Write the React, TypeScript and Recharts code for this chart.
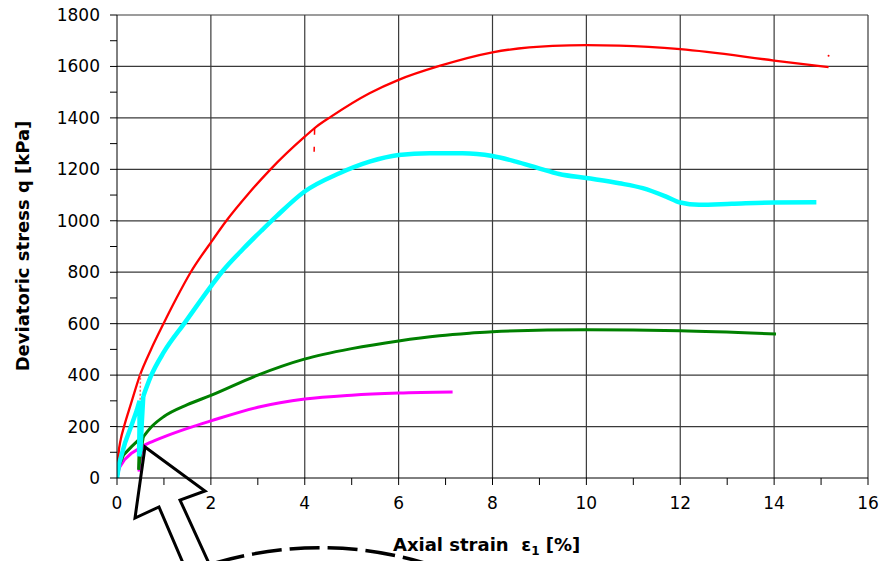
import React from 'react'
import { LineChart, Line, XAxis, YAxis, CartesianGrid } from 'recharts'

// strain ticks [%] and stress ticks [kPa]
const strainTicks = [0, 1, 2, 3, 4, 5, 6, 7, 8, 9, 10, 11, 12, 13, 14, 15, 16]
const stressTicks = [0, 100, 200, 300, 400, 500, 600, 700, 800, 900, 1000, 1100, 1200, 1300, 1400, 1500, 1600, 1700, 1800]
const gridStrain = [2, 4, 6, 8, 10, 12, 14, 16]
const gridStress = [200, 400, 600, 800, 1000, 1200, 1400, 1600, 1800]

// red test
const redStrain = [0, 0.03, 0.08, 0.15, 0.3, 0.49, 0.72, 0.99, 1.26, 1.57, 2.04, 2.33, 2.8, 3.27, 4.0, 4.25, 4.56, 5.38, 6.0, 6.87, 8.0, 9.28, 10.0, 10.7, 12.0, 14.0, 15.16]
const redStress = [0, 90, 150, 200, 290, 400, 498, 600, 697, 800, 926, 1000, 1105, 1200, 1327, 1366, 1405, 1496, 1548, 1602, 1655, 1680, 1683, 1681, 1667, 1623, 1597]
const redUnloadStrain = [0.5, 0.49]
const redUnloadStress = [405, 245]
const redMidStrain = [4.21, 4.2]
const redMidStress = [1358, 1268]
const redEndStrain = [15.16]
const redEndStress = [1642]

// cyan test
const cyanLoopStrain = [0, 0.05, 0.17, 0.3, 0.42, 0.48, 0.48, 0.47, 0.5, 0.53, 0.56]
const cyanLoopStress = [0, 60, 136, 200, 262, 300, 200, 84, 110, 220, 318]
const cyanStrain = [0.56, 0.72, 1.0, 1.45, 2.0, 2.23, 2.7, 3.08, 3.4, 3.99, 4.74, 5.38, 6.0, 6.66, 7.36, 8.0, 8.5, 8.99, 9.42, 10.0, 10.7, 11.2, 11.7, 12.0, 12.4, 13.1, 14.0, 14.9]
const cyanStress = [318, 395, 490, 605, 745, 800, 893, 962, 1018, 1113, 1185, 1230, 1256, 1263, 1263, 1252, 1230, 1204, 1182, 1166, 1146, 1127, 1094, 1071, 1062, 1066, 1071, 1072]

// green test
const greenLoopStrain = [0, 0.05, 0.14, 0.31, 0.5, 0.47, 0.46, 0.5, 0.56]
const greenLoopStress = [0, 50, 90, 122, 155, 100, 32, 90, 160]
const greenStrain = [0.56, 0.74, 1.0, 1.5, 2.0, 3.0, 3.99, 5.0, 6.0, 6.87, 7.51, 8.0, 10.0, 12.0, 14.04]
const greenStress = [160, 200, 239, 285, 321, 400, 462, 503, 533, 553, 563, 569, 576, 572, 560]

// magenta test
const magentaLoopStrain = [0, 0.05, 0.16, 0.3, 0.5, 0.48, 0.47, 0.5, 0.55]
const magentaLoopStress = [0, 40, 71, 95, 118, 70, 25, 80, 125]
const magentaStrain = [0.55, 0.8, 1.0, 1.5, 2.0, 3.0, 4.0, 5.0, 6.0, 7.15]
const magentaStress = [125, 145, 160, 193, 222, 275, 307, 322, 330, 334]

const zip = (xs: number[], ys: number[]) => xs.map((x, i) => ({ x, q: ys[i] }))

const FONT = '"DejaVu Sans", "Liberation Sans", Arial, sans-serif'

export default function App() {
  const tickStyle = { fontSize: 17, fill: '#000', fontFamily: FONT }
  return (
    <div style={{ position: 'absolute', left: 0, top: 0, width: 882, height: 561, background: '#fff' }}>
      <LineChart width={882} height={561} margin={{ top: 15, right: 14, left: 0, bottom: 0 }}>
        <CartesianGrid
          horizontalValues={gridStress}
          verticalValues={gridStrain}
          stroke="#3a3a3a"
          strokeWidth={1.2}
        />
        <XAxis
          type="number"
          dataKey="x"
          domain={[0, 16]}
          ticks={strainTicks}
          allowDataOverflow
          height={83}
          tickSize={7}
          tickMargin={12}
          tick={tickStyle}
          tickFormatter={(v: number) => (v % 2 === 0 ? String(v) : '')}
          axisLine={{ stroke: '#000' }}
          tickLine={{ stroke: '#000' }}
        />
        <YAxis
          type="number"
          dataKey="q"
          domain={[0, 1800]}
          ticks={stressTicks}
          allowDataOverflow
          width={117}
          tickSize={7}
          tickMargin={10}
          tick={tickStyle}
          tickFormatter={(v: number) => (v % 200 === 0 ? String(v) : '')}
          axisLine={{ stroke: '#000' }}
          tickLine={{ stroke: '#000' }}
        />
        <Line data={zip(magentaLoopStrain, magentaLoopStress)} dataKey="q" type="linear" stroke="#FF00FF" strokeWidth={3} dot={false} activeDot={false} isAnimationActive={false} />
        <Line data={zip(magentaStrain, magentaStress)} dataKey="q" type="monotone" stroke="#FF00FF" strokeWidth={3} dot={false} activeDot={false} isAnimationActive={false} />
        <Line data={zip(greenLoopStrain, greenLoopStress)} dataKey="q" type="linear" stroke="#008000" strokeWidth={3} dot={false} activeDot={false} isAnimationActive={false} />
        <Line data={zip(greenStrain, greenStress)} dataKey="q" type="monotone" stroke="#008000" strokeWidth={3} dot={false} activeDot={false} isAnimationActive={false} />
        <Line data={zip(redStrain, redStress)} dataKey="q" type="monotone" stroke="#FF0000" strokeWidth={2.3} dot={false} activeDot={false} isAnimationActive={false} />
        <Line data={zip(redUnloadStrain, redUnloadStress)} dataKey="q" type="linear" stroke="#FF6060" strokeWidth={1.5} strokeDasharray="2 2" dot={false} activeDot={false} isAnimationActive={false} />
        <Line data={zip(redMidStrain, redMidStress)} dataKey="q" type="linear" stroke="#FF0000" strokeWidth={1.5} strokeDasharray="6 12" dot={false} activeDot={false} isAnimationActive={false} />
        <Line data={zip(redEndStrain, redEndStress)} dataKey="q" type="linear" stroke="#FF0000" dot={{ r: 1, fill: '#FF0000', stroke: 'none' }} activeDot={false} isAnimationActive={false} />
        <Line data={zip(cyanLoopStrain, cyanLoopStress)} dataKey="q" type="linear" stroke="#00FFFF" strokeWidth={4.5} dot={false} activeDot={false} isAnimationActive={false} />
        <Line data={zip(cyanStrain, cyanStress)} dataKey="q" type="monotone" stroke="#00FFFF" strokeWidth={4.5} dot={false} activeDot={false} isAnimationActive={false} />
      </LineChart>
      <svg width={882} height={561} style={{ position: 'absolute', left: 0, top: 0, pointerEvents: 'none' }}>
        <text
          transform="translate(29, 246) rotate(-90)"
          textAnchor="middle"
          fontFamily={FONT}
          fontWeight="bold"
          fontSize={18}
          fill="#000"
        >
          Deviatoric stress  q [kPa]
        </text>
        <text x={393} y={551} fontFamily={FONT} fontWeight="bold" fontSize={18} fill="#000" style={{ whiteSpace: 'pre' }}>
          Axial strain  ε<tspan fontSize={12} dy={4}>1</tspan><tspan dy={-4}> [%]</tspan>
        </text>
        <polygon
          points="145,447 205,491 180,500 212,570 186,570 159,507 135,518"
          fill="none"
          stroke="#000"
          strokeWidth={3}
          strokeLinejoin="miter"
        />
        <path d="M 215 563 Q 330 530 440 568" fill="none" stroke="#000" strokeWidth={3.5} strokeDasharray="30 8" />
      </svg>
    </div>
  )
}
